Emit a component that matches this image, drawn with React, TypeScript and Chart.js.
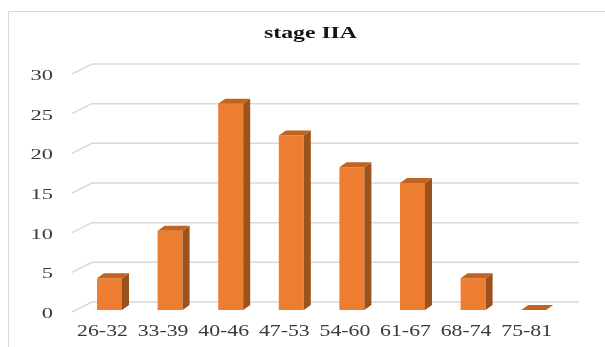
import React, { useEffect, useRef } from "react";
import { Chart, registerables } from "chart.js";

Chart.register(...registerables);

// Patient counts per age group
const chartTitle = "stage IIA";
const categories = ["26-32", "33-39", "40-46", "47-53", "54-60", "61-67", "68-74", "75-81"];
const counts = [4, 10, 26, 22, 18, 16, 4, 0];
const yTicks = [0, 5, 10, 15, 20, 25, 30];

const FRONT = "#ED7D31";
const SIDE = "#9C521D";
const TOP = "#C2631F";
const GRID = "#D9D9D9";
const TEXT = "#3A3A3A";
const SERIF = '"Liberation Serif", "Times New Roman", serif';

// 3D depth of the bars and of the back wall
const BAR_DX = 7;
const BAR_DY = 5;
const WALL_X0 = 72;
const WALL_X1 = 92;
const WALL_RIGHT = 579;

function stretchedText(
  ctx: CanvasRenderingContext2D,
  text: string,
  x: number,
  y: number,
  sx: number,
  align: CanvasTextAlign
) {
  ctx.save();
  ctx.translate(x, y);
  ctx.scale(sx, 1);
  ctx.textAlign = align;
  ctx.textBaseline = "alphabetic";
  ctx.fillText(text, 0, 0);
  ctx.restore();
}

const wallPlugin = {
  id: "wall3d",
  beforeDatasetsDraw(chart: any) {
    const ctx: CanvasRenderingContext2D = chart.ctx;
    const yScale = chart.scales.y;
    ctx.save();
    // outer frame
    ctx.strokeStyle = GRID;
    ctx.lineWidth = 1;
    ctx.beginPath();
    ctx.moveTo(8.5, 400);
    ctx.lineTo(8.5, 11.5);
    ctx.lineTo(640, 11.5);
    ctx.stroke();
    // gridlines: floor diagonal plus back-wall line
    ctx.strokeStyle = GRID;
    ctx.lineWidth = 1.5;
    yTicks.forEach((v) => {
      const py = yScale.getPixelForValue(v);
      ctx.beginPath();
      ctx.moveTo(WALL_X0, py + 2);
      ctx.lineTo(WALL_X1, py - 8);
      ctx.lineTo(WALL_RIGHT, py - 8);
      ctx.stroke();
    });
    ctx.restore();
  },
  afterDatasetsDraw(chart: any) {
    const ctx: CanvasRenderingContext2D = chart.ctx;
    const meta = chart.getDatasetMeta(0);
    ctx.save();
    meta.data.forEach((bar: any) => {
      const { x, y, base, width } = bar.getProps(["x", "y", "base", "width"], true);
      const l = x - width / 2;
      const r = x + width / 2;
      // right side face
      ctx.fillStyle = SIDE;
      ctx.beginPath();
      ctx.moveTo(r, y);
      ctx.lineTo(r + BAR_DX, y - BAR_DY);
      ctx.lineTo(r + BAR_DX, base - BAR_DY);
      ctx.lineTo(r, base);
      ctx.closePath();
      ctx.fill();
      // top face
      ctx.fillStyle = TOP;
      ctx.beginPath();
      ctx.moveTo(l, y);
      ctx.lineTo(l + BAR_DX, y - BAR_DY);
      ctx.lineTo(r + BAR_DX, y - BAR_DY);
      ctx.lineTo(r, y);
      ctx.closePath();
      ctx.fill();
    });
    ctx.restore();
  },
  afterDraw(chart: any) {
    const ctx: CanvasRenderingContext2D = chart.ctx;
    const yScale = chart.scales.y;
    const meta = chart.getDatasetMeta(0);
    ctx.save();
    // title
    ctx.fillStyle = "#141414";
    ctx.font = `bold 16.5px ${SERIF}`;
    stretchedText(ctx, chartTitle, 310.5, 38, 1.44, "center");
    // value axis labels
    ctx.fillStyle = TEXT;
    ctx.font = `15px ${SERIF}`;
    yTicks.forEach((v) => {
      stretchedText(ctx, String(v), 53, yScale.getPixelForValue(v) + 8, 1.5, "right");
    });
    // category labels
    ctx.font = `16.5px ${SERIF}`;
    meta.data.forEach((bar: any, i: number) => {
      stretchedText(ctx, categories[i], bar.x - 7, 336, 1.32, "center");
    });
    ctx.restore();
  },
};

export default function App() {
  const canvasRef = useRef<HTMLCanvasElement | null>(null);

  useEffect(() => {
    const canvas = canvasRef.current;
    if (!canvas) return;
    const chart = new Chart(canvas, {
      type: "bar",
      data: {
        labels: categories,
        datasets: [
          {
            data: counts,
            backgroundColor: FRONT,
            borderWidth: 0,
            barPercentage: 0.4125,
            categoryPercentage: 1,
          },
        ],
      },
      options: {
        responsive: false,
        animation: false,
        devicePixelRatio: 1,
        layout: { padding: { left: 79.2, right: 41, top: 72, bottom: 37 } },
        plugins: {
          legend: { display: false },
          title: { display: false },
          tooltip: { enabled: false },
        },
        scales: {
          x: { display: false, offset: true },
          y: { display: false, min: 0, max: 30 },
        },
      },
      plugins: [wallPlugin],
    });
    return () => chart.destroy();
  }, []);

  return (
    <div style={{ position: "fixed", left: 0, top: 0, width: 605, height: 347, background: "#fff" }}>
      <canvas ref={canvasRef} width={605} height={347} />
    </div>
  );
}
